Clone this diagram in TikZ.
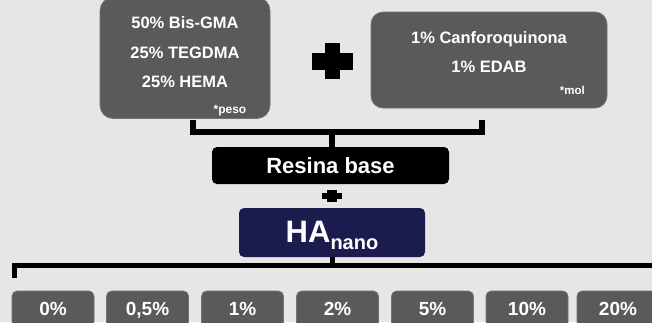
\documentclass[tikz,border=0pt]{standalone}
\usepackage{fontspec}
\setmainfont{Liberation Sans}
\usepackage{tikz}
\usetikzlibrary{positioning, calc}

\definecolor{bggrey}{HTML}{E6E6E6}
\definecolor{boxgrey}{HTML}{5A5A5A}
\definecolor{navyblue}{HTML}{1C1B4D}

\tikzset{
    greybox/.style={fill=boxgrey, draw=boxgrey!85!white, line width=0.6pt, inner sep=0pt},
    boxtext/.style={text=white, font=\fontsize{16.5}{29.5}\selectfont\bfseries, align=center},
    notetext/.style={text=white, font=\fontsize{11.5}{12}\selectfont\bfseries, inner sep=0pt},
    bracket/.style={line width=6pt, black},
    pctbox/.style={greybox, rounded corners=5pt, minimum width=82pt, minimum height=36pt,
        text=white, font=\fontsize{19}{19}\selectfont\bfseries, text height=13.7pt, text depth=0pt}
}

\begin{document}
\begin{tikzpicture}[x=1pt, y=-1pt]
    % Canvas
    \fill[bggrey] (0, 0) rectangle (652, 322);
    \clip (0, 0) rectangle (652, 322);

    % Monomer mixture
    \node[greybox, rounded corners=13pt, minimum width=170pt, minimum height=121pt] (monomer) at (185, 58) {};
    \node[boxtext] (monomertext) at (185, 52.5) {50\% Bis-GMA\\25\% TEGDMA\\25\% HEMA};
    \node[notetext, anchor=base east, font=\fontsize{12}{12}\selectfont\bfseries] (peso) at (246.5, 113) {*peso};

    % Big plus
    \fill (325, 43) rectangle (340, 79);
    \fill (312, 53) rectangle (353, 70);

    % Photoinitiator system
    \node[greybox, rounded corners=12pt, minimum width=236pt, minimum height=96pt] (initiator) at (489, 60) {};
    \node[boxtext] (initiatortext) at (489, 52) {1\% Canforoquinona\\1\% EDAB};
    \node[notetext, anchor=base east] (mol) at (585, 94) {*mol};

    % Top bracket
    \coordinate (leftleg) at (193, 120);
    \coordinate (rightleg) at (482, 120);
    \coordinate (topbar) at (332, 131.5);
    \draw[bracket] (leftleg) -- (leftleg |- topbar) -| (rightleg);

    % Base resin
    \node[fill=black, rounded corners=5pt, minimum width=237pt, minimum height=37pt, inner sep=0pt,
        text=white, font=\fontsize{22}{22}\selectfont\bfseries, text height=15.8pt, text depth=0pt]
        (resina) at (330.5, 165.5) {Resina base};
    \draw[bracket] (topbar) -- (topbar |- resina.north);

    % Small plus
    \fill (322, 193) rectangle (342, 199);
    \fill (327, 190) rectangle (337, 202);

    % Nano hydroxyapatite
    \node[fill=navyblue, rounded corners=5pt, minimum width=186pt, minimum height=49pt, inner sep=0pt,
        text=white, font=\bfseries, text height=22.3pt, text depth=1.5pt]
        (hanano) at (332, 232.5) {{\fontsize{31}{31}\selectfont HA}\raisebox{-7pt}{\fontsize{20}{20}\selectfont nano}};

    % Bottom bracket
    \coordinate (botbar) at (332, 265.5);
    \coordinate (botleft) at (14, 278);
    \coordinate (botright) at (660, 265.5);
    \draw[line width=5pt] (hanano.south) -- (hanano.south |- botbar);
    \draw[line width=5pt] (botleft) |- (botright);

    % Filler contents
    \foreach \x/\pct [count=\i] in {53/0\%, 147.5/{0,5\%}, 242.5/1\%, 337.5/2\%, 432.5/5\%, 527/10\%, 618/20\%}
        \node[pctbox] (pct\i) at (\x, 309) {\pct};
\end{tikzpicture}
\end{document}
